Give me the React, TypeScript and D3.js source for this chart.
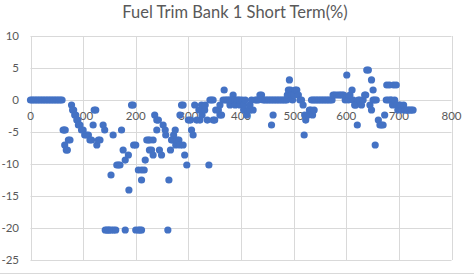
import React from 'react';
import * as d3 from 'd3';

const title = 'Fuel Trim Bank 1 Short Term(%)';
const xTicks = [0, 100, 200, 300, 400, 500, 600, 700, 800];
const yTicks = [10, 5, 0, -5, -10, -15, -20, -25];

// [x, fuel trim %]
const startPoints: [number, number][] = [
  [0, 0], [3, 0], [6, 0], [9, 0], [12, 0], [15, 0], [18, 0], [21, 0], [24, 0], [27, 0],
  [30, 0], [33, 0], [36, 0], [39, 0], [42, 0], [45, 0], [48, 0], [51, 0], [54, 0], [57, 0], [60, 0],
];

const dropPoints: [number, number][] = [
  [62, -4.69], [64, -4.69], [66, -4.69], [65, -7.03], [68, -7.81], [70, -7.81], [72, -6.25], [75, -6.25],
  [78, -0.78], [80, -1.56], [82, -1.56], [84, -2.34], [86, -2.34], [88, -3.13], [90, -3.13], [91, -3.91],
  [94, -3.91], [97, -4.69], [100, -4.69], [103, -5.47], [106, -5.47], [110, -5.47], [113, -6.25], [116, -6.25],
  [119, -3.91], [121, -1.56], [124, -1.56], [126, -7.03], [129, -6.25], [132, -6.25], [138, -3.91], [141, -4.69],
  [142, -20.31], [145, -20.31], [148, -20.31], [150, -20.31], [154, -20.31], [158, -20.31], [162, -20.31],
  [153, -11.72], [157, -5.47], [164, -10.16], [167, -10.16], [170, -10.16], [173, -4.69], [176, -7.81],
  [180, -9.38], [180, -20.31], [186, -8.59], [187, -14.06], [192, -0.78], [195, -0.78], [196, -7.03],
  [200, -7.03], [200, -20.31], [205, -20.31], [208, -20.31], [211, -20.31], [205, -10.94], [211, -10.94],
  [216, -10.94], [211, -12.5], [218, -9.38], [221, -6.25], [224, -6.25], [227, -6.25], [233, -6.25],
  [226, -7.81], [230, -7.81], [233, -8.59], [236, -2.34], [240, -3.13], [240, -4.69], [243, -3.13],
  [245, -7.81], [249, -8.59], [252, -3.91], [256, -4.69], [257, -5.47], [261, -20.31], [263, -12.5],
  [266, -7.81], [268, -6.25], [270, -6.25], [272, -5.47], [275, -4.69], [276, -7.03], [279, -6.25],
  [282, -6.25], [284, -7.03], [284, -2.34], [287, -0.78], [290, -0.78], [290, -7.03], [293, -8.59],
  [297, -10.16], [300, -3.13], [304, -3.13], [306, -4.69], [309, -5.47], [312, -0.78], [316, -3.13],
  [320, -1.56], [322, -3.13], [325, -0.78], [326, -2.34], [331, -1.56], [332, -0.78], [336, -3.13],
  [339, -10.16],
];

const middlePoints: [number, number][] = [
  [341, 0], [344, 0], [347, 0], [347, -3.13], [350, -3.13], [352, -1.56], [357, -1.56], [360, -2.34],
  [360, -0.78], [363, -2.34], [366, 0], [368, 1.56], [370, 0], [373, 0], [376, 0], [379, 0], [379, -0.78],
  [382, 0], [385, 0.78], [385, 0], [388, 0], [389, -0.78], [392, 0], [395, 0], [398, -0.78], [398, 0],
  [402, 0], [405, -1.56], [405, -0.78], [408, 0], [411, -2.34], [414, -1.56], [417, -1.56], [417, -0.78],
  [420, 0], [423, -1.56], [427, 0], [430, 0], [433, 0], [436, 0.78], [439, 0.78], [442, 0], [445, 0],
  [448, 0], [451, 0], [454, 0], [457, 0], [458, -3.91], [461, -2.34], [460, 0], [463, 0], [466, 0],
  [469, 0], [472, 0], [475, 0], [478, 0], [481, 0], [484, 0], [487, 0], [488, 0.78], [490, 1.56],
  [492, 3.13], [494, 1.56], [496, 0.78], [498, 0], [500, 0.78], [503, 1.56], [506, 1.56], [509, 0.78],
  [512, 0], [515, 0], [518, -0.78], [520, -5.47], [521, -2.34], [523, -3.13], [527, -2.34], [530, -1.56],
  [533, -1.56], [536, -2.34], [534, 0], [537, 0], [539, -1.56], [540, 0], [543, 0], [546, 0], [549, 0],
  [552, 0], [555, 0], [558, 0], [561, 0], [564, 0], [567, 0], [570, 0], [573, 0],
];

const endPoints: [number, number][] = [
  [575, 0.78], [578, 0.78], [582, 0.78], [586, 0.78], [589, 0.78], [592, 0.78], [595, 0.78], [598, 0],
  [601, 3.91], [604, 0], [607, 0.78], [611, 1.56], [613, 0], [616, -0.78], [618, -0.78], [621, -3.91],
  [623, 0], [626, 0], [629, -0.78], [632, 0], [635, 0.78], [637, 0.78], [639, 4.69], [642, 4.69],
  [645, -0.78], [648, 3.13], [648, -1.56], [651, 1.56], [651, 0], [654, 0], [655, -7.03], [657, 0],
  [661, -3.13], [664, -3.91], [667, -3.91], [670, -3.91], [673, -2.34], [676, 0], [677, 2.34], [680, 0],
  [682, 2.34], [684, 0], [686, 0], [688, -0.78], [690, 2.34], [692, 0], [695, 2.34], [696, -0.78],
  [698, -1.56], [700, -0.78], [703, -0.78], [706, -1.56], [709, -0.78], [712, -1.56], [715, -1.56],
  [718, -1.56], [721, -1.56], [724, -1.56], [727, -1.56],
];

const allPoints = [...startPoints, ...dropPoints, ...middlePoints, ...endPoints];

const W = 474;
const H = 276;
const FONT = 'Lato, "Open Sans", sans-serif';
const TEXT = '#595959';
const GRID = '#d9d9d9';

export default function App() {
  const x = d3.scaleLinear().domain([0, 800]).range([30.5, 451.5]);
  const y = d3.scaleLinear().domain([-25, 10]).range([260, 36]);
  return (
    <svg width={W} height={H} style={{ position: 'fixed', left: 0, top: 0, background: '#fff' }}>
      <rect x={0} y={0} width={W} height={H} fill="#fff" />
      <line x1={0} x2={W} y1={273.5} y2={273.5} stroke={GRID} />
      <text x={235} y={18} textAnchor="middle" fontFamily={FONT} fontSize={16.5} fill={TEXT}>
        {title}
      </text>
      {yTicks.map((t) => (
        <line key={'gy' + t} x1={x(0)} x2={x(800)} y1={Math.round(y(t)) + 0.5} y2={Math.round(y(t)) + 0.5} stroke={GRID} />
      ))}
      {xTicks.map((t) => (
        <line key={'gx' + t} x1={Math.round(x(t)) + 0.5} x2={Math.round(x(t)) + 0.5} y1={y(10)} y2={y(-25)} stroke={GRID} />
      ))}
      {yTicks.map((t) => (
        <text key={'ty' + t} x={19} y={y(t)} dy="0.35em" textAnchor="end" fontFamily={FONT} fontSize={11.5} fill={TEXT}>
          {t}
        </text>
      ))}
      {xTicks.map((t) => (
        <text key={'tx' + t} x={x(t)} y={y(0) + 16} dy="0.35em" textAnchor="middle" fontFamily={FONT} fontSize={11.5} fill={TEXT}>
          {t}
        </text>
      ))}
      {allPoints.map(([px, py], i) => (
        <circle key={i} cx={x(px)} cy={y(py)} r={3.6} fill="#4472C4" />
      ))}
    </svg>
  );
}
